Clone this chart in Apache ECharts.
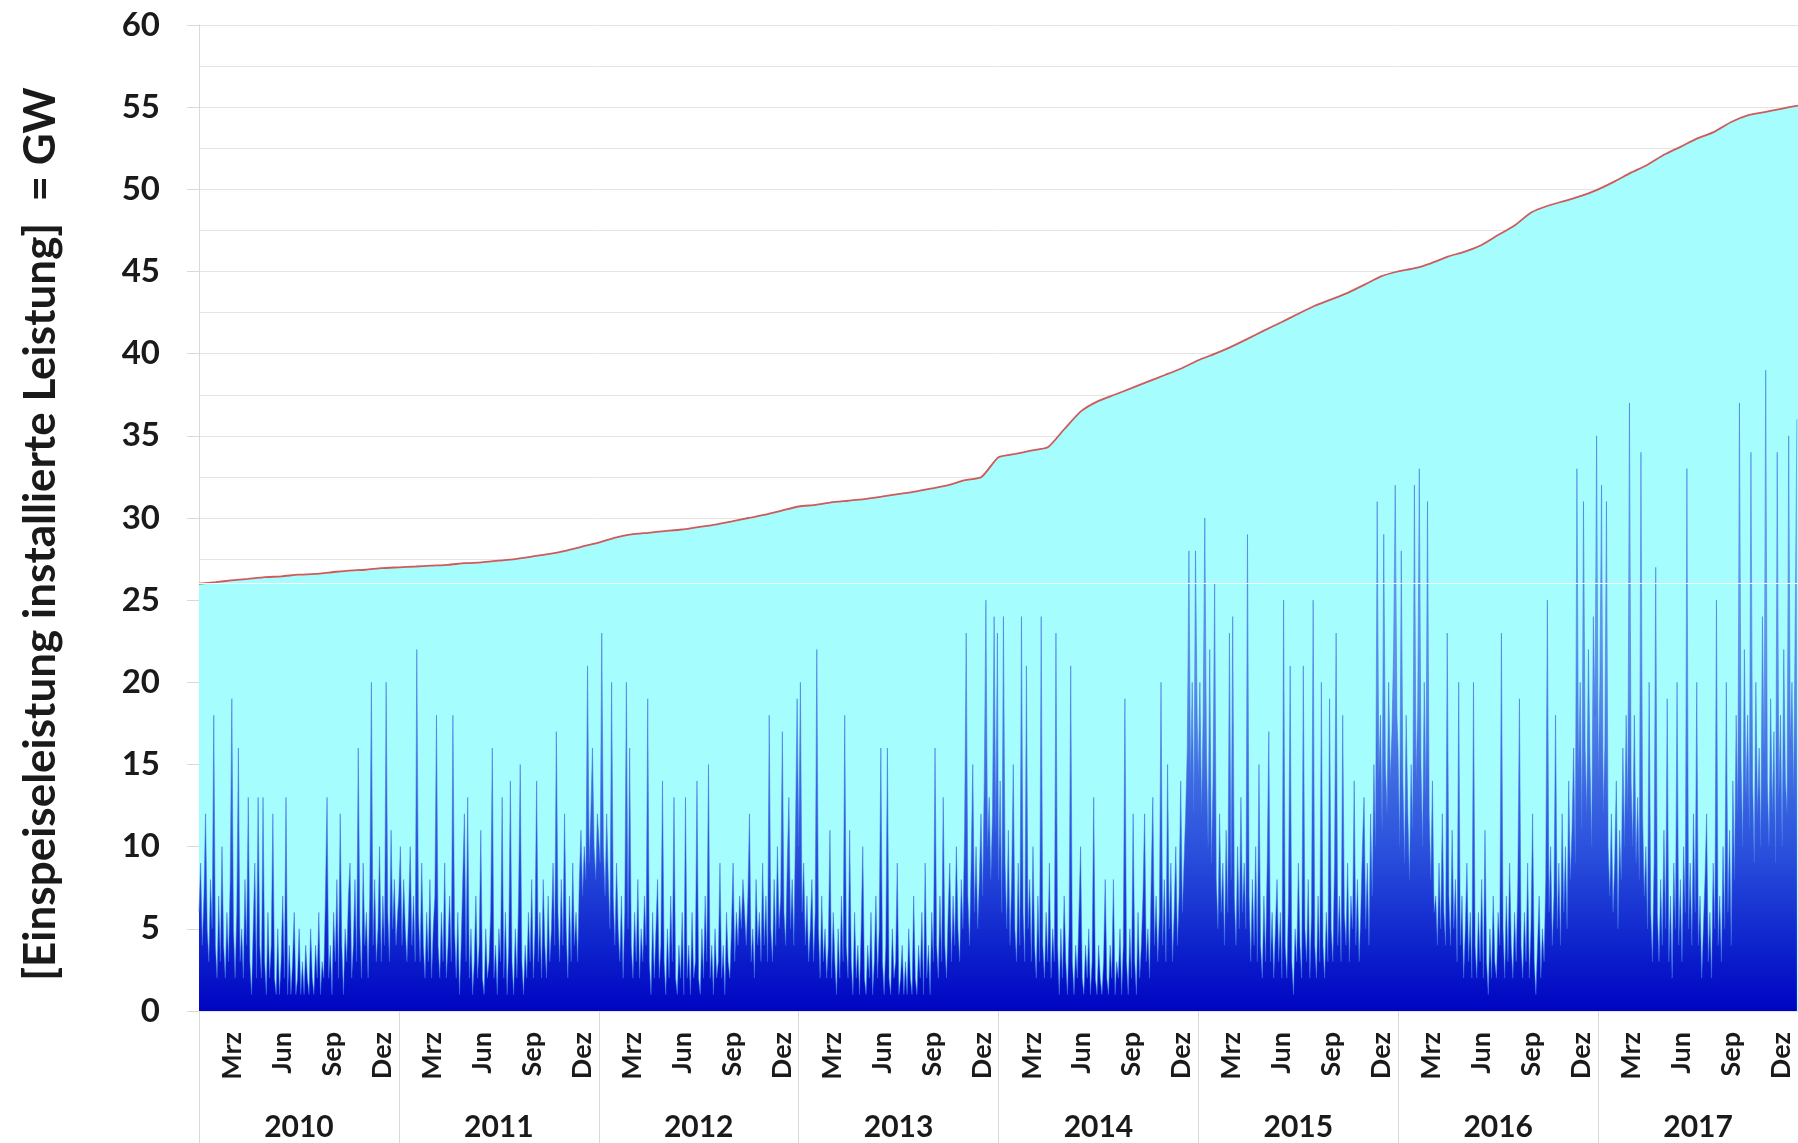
<!DOCTYPE html>
<html>
<head>
<meta charset="utf-8">
<script src="https://cdn.jsdelivr.net/npm/echarts@6/dist/echarts.min.js"></script>
<style>
  html, body { margin: 0; padding: 0; background: #ffffff; }
  #chart { width: 1798px; height: 1143px; }
</style>
</head>
<body>
<div id="chart"></div>
<script>
// ---------- DATA ----------
const YEARS = ['2010', '2011', '2012', '2013', '2014', '2015', '2016', '2017'];
const MONTH_TICK_LABELS = ['', '', 'Mrz', '', '', 'Jun', '', '', 'Sep', '', '', 'Dez'];
const Y_TITLE = '[Einspeiseleistung installierte Leistung]  = GW';
const FEED_STEP_DAYS = 3;   // feed-in values read every 3 days, starting Jan 1

// installed capacity (GW), value on the 1st of each month
const capacity2010 = [26.0, 26.1, 26.2, 26.3, 26.4, 26.45, 26.55, 26.6, 26.7, 26.8, 26.85, 26.95];
const capacity2011 = [27.0, 27.05, 27.1, 27.15, 27.25, 27.3, 27.4, 27.5, 27.65, 27.8, 28.0, 28.25];
const capacity2012 = [28.5, 28.8, 29.0, 29.1, 29.2, 29.3, 29.45, 29.6, 29.8, 30.0, 30.2, 30.45];
const capacity2013 = [30.7, 30.8, 30.95, 31.05, 31.15, 31.3, 31.45, 31.6, 31.8, 32.0, 32.3, 32.5];
const capacity2014 = [33.7, 33.9, 34.1, 34.3, 35.4, 36.5, 37.1, 37.5, 37.9, 38.3, 38.7, 39.1];
const capacity2015 = [39.6, 40.0, 40.4, 40.9, 41.4, 41.9, 42.4, 42.9, 43.3, 43.7, 44.2, 44.7];
const capacity2016 = [45.0, 45.2, 45.5, 45.9, 46.2, 46.6, 47.2, 47.8, 48.6, 49.0, 49.3, 49.6];
const capacity2017 = [50.0, 50.5, 51.0, 51.5, 52.1, 52.6, 53.1, 53.5, 54.1, 54.5, 54.7, 54.9];
const capacityEnd = 55.1;   // 1 Jan 2018

// wind feed-in (GW)
const feedIn2010 = [6,9,4,7,12,5,3,8,5,18, 4,2,7,3,10,4,2,6,3,8, 19,5,2,6,16,3,5,2,8,4, 13,3,1,5,9,2,13,4,2,13,
  3,1,6,2,4,12,2,1,5,1, 3,7,2,13,1,4,1,3,6,1, 2,5,1,3,1,4,2,1,5,2, 1,4,2,6,1,3,2,7,13,2,
  4,1,6,3,8,2,12,4,1,5, 3,7,9,2,4,8,3,16,5,2, 9,4,6,2,7,20,4,8,3,5, 10,3,7,4,20,6,3,11,5,8, 4,6];
const feedIn2011 = [7,10,4,8,5,3,6,10,4,7, 3,22,6,3,9,4,2,6,3,8, 2,5,7,18,4,2,6,3,9,2, 4,7,3,18,5,2,6,1,4,8,
  12,3,13,2,5,1,3,7,2,4, 11,2,1,5,2,3,6,16,2,4, 1,5,3,13,2,6,1,4,14,3, 1,5,2,7,15,3,1,4,2,6,
  3,8,2,5,14,3,6,2,8,4, 2,7,3,5,9,4,17,6,3,8, 4,12,5,2,7,3,9,4,6,3, 8,11,7,10,8,21,9,12,16,10, 8,12];
const feedIn2012 = [12,9,23,10,7,12,8,5,20,7, 4,9,5,3,7,2,6,20,5,16, 4,2,6,3,8,2,5,3,7,4, 19,3,1,6,2,5,8,2,4,14,
  3,1,5,2,7,3,13,2,1,4, 2,6,1,13,2,4,1,6,2,3, 14,2,1,5,2,7,3,15,2,4, 1,5,2,3,9,2,4,1,6,3,
  2,5,9,3,6,4,7,5,8,6, 4,7,12,3,5,2,8,4,6,3, 9,4,7,3,18,5,3,8,4,10, 5,7,17,6,4,9,13,5,8,4, 11,19];
const feedIn2013 = [10,20,6,9,4,7,3,5,8,3, 6,22,5,2,7,3,5,2,4,11, 2,6,3,1,5,2,7,3,18,4, 2,11,3,1,6,2,4,1,5,10,
  2,1,4,2,6,1,3,7,2,5, 16,3,1,4,16,2,1,5,2,3, 9,1,2,4,1,3,1,5,2,1, 7,2,1,4,2,6,1,9,2,4,
  1,6,3,16,4,2,7,3,13,4, 2,6,9,3,7,4,10,5,3,8, 5,11,23,7,4,9,15,6,10,5, 8,12,7,14,25,10,13,8,12,24, 11,23];
const feedIn2014 = [8,14,6,24,9,5,11,4,8,15, 5,3,9,4,24,6,3,21,5,8, 3,10,4,2,7,3,24,4,2,6, 3,9,2,5,3,23,4,1,5,2,
  7,3,1,5,21,3,1,4,2,6, 10,2,1,4,2,5,1,3,13,2, 1,4,2,1,3,8,2,1,4,2, 8,1,3,2,5,1,4,19,3,1,
  5,2,12,3,1,6,2,4,7,12, 3,5,2,8,13,4,7,3,6,20, 4,8,3,15,5,9,3,6,10,4, 7,14,6,9,12,16,28,14,20,12, 28,18];
const feedIn2015 = [14,20,12,18,30,16,10,22,9,14, 26,8,5,12,6,9,4,11,6,23, 8,24,7,4,10,5,13,6,9,5, 29,7,3,8,4,10,3,15,4,2,
  7,3,9,17,3,6,2,5,8,3, 6,2,25,4,2,7,21,3,1,5, 3,9,4,2,21,5,3,8,2,6, 25,4,2,7,3,20,4,2,6,3,
  19,5,3,9,23,4,7,3,18,6, 4,9,3,7,5,14,4,8,3,6, 10,13,5,9,4,12,7,15,10,31, 14,18,11,29,15,12,20,14,17,22, 32,18];
const feedIn2016 = [16,10,28,14,9,18,12,8,15,11, 32,14,18,33,15,10,20,13,31,12, 8,14,6,7,4,9,5,12,6,4, 23,7,4,11,5,8,3,20,4,7,
  2,5,9,3,6,2,20,4,2,6, 3,8,2,11,3,1,5,2,7,3, 2,6,4,23,5,2,7,3,9,4, 2,6,3,8,19,4,2,6,3,9,
  2,5,12,3,1,4,7,2,5,3, 8,25,6,10,4,7,18,5,9,4, 12,6,10,5,14,8,11,16,9,33, 14,20,11,31,16,12,22,15,10,24, 18,35];
const feedIn2017 = [14,20,32,12,16,31,10,7,12,6, 9,14,5,11,8,16,10,18,12,37, 14,10,18,9,13,8,34,12,7,10, 5,20,6,3,9,27,6,3,8,4,
  11,5,19,3,7,2,9,5,20,4, 8,3,10,6,33,5,9,4,12,6, 20,4,7,2,5,8,12,3,6,2, 9,5,25,4,7,3,10,5,20,6,
  11,4,14,8,18,12,37,15,10,22, 13,18,11,34,14,9,20,12,16,10, 24,15,39,14,10,19,12,17,9,34, 13,18,10,22,14,12,35,16,20,13, 24,36];

// ---------- BUILD ----------
const DAY_MS = 86400000;
const feedInByYear = [feedIn2010, feedIn2011, feedIn2012, feedIn2013, feedIn2014, feedIn2015, feedIn2016, feedIn2017];
const capacityByYear = [capacity2010, capacity2011, capacity2012, capacity2013, capacity2014, capacity2015, capacity2016, capacity2017];

const feedData = [];
feedInByYear.forEach(function (arr, yi) {
  const y0 = Date.UTC(parseInt(YEARS[yi], 10), 0, 1);
  arr.forEach(function (v, i) { feedData.push([y0 + i * FEED_STEP_DAYS * DAY_MS, v]); });
});

const capacityData = [];
const monthKeys = [];
capacityByYear.forEach(function (arr, yi) {
  const yr = parseInt(YEARS[yi], 10);
  arr.forEach(function (v, m) {
    capacityData.push([Date.UTC(yr, m, 1), v]);
    monthKeys.push(yr + '-' + m);
  });
});
const lastYear = parseInt(YEARS[YEARS.length - 1], 10) + 1;
capacityData.push([Date.UTC(lastYear, 0, 1), capacityEnd]);
monthKeys.push(lastYear + '-0');

const FONT = 'Lato, "Open Sans", sans-serif';
const GRID_COLOR = '#e4e4e4';

const chart = echarts.init(document.getElementById('chart'), null, { renderer: 'canvas' });
chart.setOption({
  animation: false,
  backgroundColor: '#ffffff',
  grid: { left: 199, right: 0, top: 25, bottom: 132, containLabel: false },
  xAxis: [
    {
      type: 'time',
      min: Date.UTC(parseInt(YEARS[0], 10), 0, 1),
      max: Date.UTC(lastYear, 0, 1),
      show: false
    },
    {
      type: 'category',
      position: 'bottom',
      boundaryGap: false,
      data: monthKeys,
      axisLine: { show: false },
      axisTick: { show: false },
      splitLine: { show: false },
      axisLabel: {
        interval: 0,
        rotate: 90,
        margin: 21,
        fontSize: 27,
        fontWeight: 'bold',
        fontFamily: FONT,
        color: '#1a1a1a',
        formatter: function (val, idx) { return MONTH_TICK_LABELS[idx % 12]; }
      }
    },
    {
      type: 'category',
      position: 'bottom',
      boundaryGap: true,
      data: YEARS,
      axisLine: { show: false },
      axisTick: { show: true, interval: 0, length: 132, lineStyle: { color: '#d9d9d9', width: 1 } },
      splitLine: { show: false },
      axisLabel: {
        interval: 0,
        margin: 101,
        fontSize: 30,
        fontWeight: 'bold',
        fontFamily: FONT,
        color: '#1a1a1a'
      }
    }
  ],
  yAxis: {
    type: 'value',
    min: 0,
    max: 60,
    interval: 5,
    name: Y_TITLE,
    nameLocation: 'middle',
    nameRotate: 90,
    nameGap: 136,
    nameTextStyle: {
      fontSize: 44,
      fontWeight: 'bold',
      fontFamily: FONT,
      color: '#1a1a1a',
      padding: [0, 32, 0, 0]
    },
    axisLine: { show: true, lineStyle: { color: '#d9d9d9', width: 1 } },
    axisTick: { show: true, length: 12, lineStyle: { color: '#d9d9d9' } },
    minorTick: { show: false, splitNumber: 2 },
    splitLine: { show: true, lineStyle: { color: GRID_COLOR, width: 1 } },
    minorSplitLine: { show: true, lineStyle: { color: GRID_COLOR, width: 1 } },
    axisLabel: {
      margin: 39,
      fontSize: 33,
      fontWeight: 'bold',
      fontFamily: FONT,
      color: '#1a1a1a'
    }
  },
  series: [
    {
      name: 'installierte Leistung',
      type: 'line',
      xAxisIndex: 0,
      data: capacityData,
      showSymbol: false,
      symbol: 'none',
      smooth: 0.2,
      lineStyle: { color: '#cf5a5a', width: 1.8 },
      areaStyle: { color: '#a6fdfd', opacity: 1 },
      z: 1,
      markLine: {
        silent: true,
        symbol: 'none',
        label: { show: false },
        lineStyle: { color: '#ffffff', width: 1.2, type: 'solid', opacity: 0.9 },
        data: [{ yAxis: capacityData[0][1] }]
      }
    },
    {
      name: 'Einspeiseleistung',
      type: 'line',
      xAxisIndex: 0,
      data: feedData,
      showSymbol: false,
      symbol: 'none',
      sampling: 'none',
      lineStyle: { color: '#3a68e2', width: 0.6, opacity: 0.85 },
      areaStyle: {
        opacity: 1,
        color: new echarts.graphic.LinearGradient(0, 0, 0, 1, [
          { offset: 0, color: '#9fcff6' },
          { offset: 0.5, color: '#5a8ae8' },
          { offset: 0.75, color: '#2a50dc' },
          { offset: 0.9, color: '#0d22cc' },
          { offset: 1, color: '#0004c2' }
        ])
      },
      z: 2
    }
  ]
});
</script>
</body>
</html>
